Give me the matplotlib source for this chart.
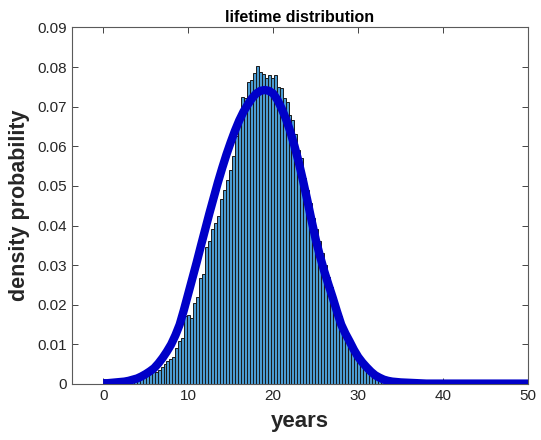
import matplotlib

matplotlib.use('Agg')

import numpy as np
import matplotlib.pyplot as plt

# histogram: first bin edge, bin width and bar heights (pdf normalised)
bin_start = 1.5
bin_width = 0.35
bar_heights = [
    0.0001, 0.0002, 0.0002, 0.0004, 0.0005, 0.0007, 0.0009, 0.0011, 0.0014, 0.0018,
    0.0022, 0.0027, 0.0033, 0.0030, 0.0036, 0.0043, 0.0050, 0.0057, 0.0064, 0.0069,
    0.0090, 0.0108, 0.0116, 0.0172, 0.0174, 0.0167, 0.0205, 0.0220, 0.0268, 0.0278,
    0.0346, 0.0360, 0.0390, 0.0407, 0.0424, 0.0468, 0.0490, 0.0515, 0.0540, 0.0575,
    0.0625, 0.0680, 0.0725, 0.0722, 0.0763, 0.0768, 0.0785, 0.0803, 0.0788, 0.0783,
    0.0773, 0.0780, 0.0773, 0.0780, 0.0750, 0.0747, 0.0722, 0.0712, 0.0680, 0.0667,
    0.0630, 0.0590, 0.0570, 0.0520, 0.0490, 0.0457, 0.0420, 0.0390, 0.0360, 0.0330,
    0.0300, 0.0270, 0.0245, 0.0220, 0.0195, 0.0172, 0.0136, 0.0116, 0.0105, 0.0093,
    0.0078, 0.0068, 0.0060, 0.0055, 0.0048, 0.0038, 0.0030, 0.0025, 0.0021, 0.0015,
    0.0011, 0.0008, 0.0005,
]

# fitted density curve, read every half year up to 35, then every year
curve_x = [
    0, 0.5, 1, 1.5, 2, 2.5, 3, 3.5, 4, 4.5, 5, 5.5, 6, 6.5, 7, 7.5, 8, 8.5, 9, 9.5,
    10, 10.5, 11, 11.5, 12, 12.5, 13, 13.5, 14, 14.5, 15, 15.5, 16, 16.5, 17, 17.5,
    18, 18.5, 19, 19.5, 20, 20.5, 21, 21.5, 22, 22.5, 23, 23.5, 24, 24.5, 25, 25.5,
    26, 26.5, 27, 27.5, 28, 28.5, 29, 29.5, 30, 30.5, 31, 31.5, 32, 32.5, 33, 33.5,
    34, 34.5, 35, 36, 37, 38, 39, 40, 41, 42, 43, 44, 45, 46, 47, 48, 49, 50,
]
curve_y = [
    0.0002, 0.0002, 0.0003, 0.0004, 0.0005, 0.0006, 0.0008, 0.0011, 0.0014, 0.0019,
    0.0025, 0.0032, 0.0040, 0.0052, 0.0066, 0.0082, 0.0100, 0.0123, 0.0150, 0.0187,
    0.0227, 0.0267, 0.0307, 0.0349, 0.0390, 0.0431, 0.0470, 0.0509, 0.0545, 0.0579,
    0.0610, 0.0639, 0.0665, 0.0687, 0.0705, 0.0721, 0.0733, 0.0740, 0.0742, 0.0740,
    0.0733, 0.0717, 0.0695, 0.0669, 0.0638, 0.0601, 0.0560, 0.0514, 0.0465, 0.0414,
    0.0365, 0.0323, 0.0285, 0.0251, 0.0218, 0.0183, 0.0150, 0.0127, 0.0107, 0.0086,
    0.0068, 0.0054, 0.0042, 0.0031, 0.0022, 0.0016, 0.0011, 0.0008, 0.0006, 0.0005,
    0.0004, 0.0003, 0.0002, 0.0001, 0.0001, 0.0001, 0.0001, 0.0001, 0.0001, 0.0001,
    0.0001, 0.0001, 0.0001, 0.0001, 0.0001, 0.0001,
]

x_ticks = [0, 10, 20, 30, 40, 50]
y_ticks = [0, 0.01, 0.02, 0.03, 0.04, 0.05, 0.06, 0.07, 0.08, 0.09]
y_tick_labels = ['0', '0.01', '0.02', '0.03', '0.04', '0.05', '0.06', '0.07', '0.08', '0.09']

plt.rcParams['font.family'] = ['Liberation Sans', 'DejaVu Sans']
axis_grey = '#262626'

fig = plt.figure(figsize=(5.41, 4.40), dpi=100)
ax = fig.add_axes([0.1325, 0.1273, 0.844, 0.8104])

left_edges = bin_start + bin_width * np.arange(len(bar_heights))
ax.bar(left_edges, bar_heights, width=bin_width, align='edge',
       facecolor='#4a9bd2', edgecolor='#1a1a1a', linewidth=0.7, zorder=2)
ax.plot(curve_x, curve_y, '-', color='#0000c8', linewidth=6,
        solid_capstyle='butt', solid_joinstyle='round', zorder=3)

ax.set_xlim(-3.7, 50)
ax.set_ylim(0, 0.09)
ax.set_xticks(x_ticks)
ax.set_yticks(y_ticks)
ax.set_yticklabels(y_tick_labels)

ax.tick_params(direction='in', top=True, right=True, length=4, width=0.6,
               colors=axis_grey, labelsize=11, labelcolor=axis_grey)
for side in ax.spines.values():
    side.set_color('#5a5a5a')
    side.set_linewidth(0.8)

ax.set_title('lifetime distribution', fontsize=11.5, fontweight='bold', pad=4)
ax.set_xlabel('years', fontsize=16, fontweight='bold', color=axis_grey, labelpad=6)
ax.set_ylabel('density probability', fontsize=15.5, fontweight='bold', color=axis_grey, labelpad=5)

plt.savefig('out.png', dpi=100)
